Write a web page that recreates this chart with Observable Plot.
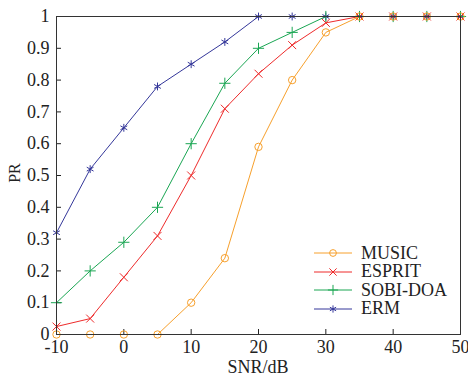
<!DOCTYPE html>
<html><head><meta charset="utf-8">
<script src="https://cdn.jsdelivr.net/npm/d3@7"></script>
<script src="https://cdn.jsdelivr.net/npm/@observablehq/plot@0.6"></script>
<style>
body{margin:0;background:#fff;}
#wrap{position:relative;width:468px;height:376px;font-family:"Liberation Serif","Times New Roman",serif;}
#legend{position:absolute;left:312px;top:244px;font-size:18px;color:#222;}
.row{display:flex;align-items:center;height:18.5px;}
.row svg{margin-right:9px;}
</style></head>
<body><div id="wrap"><div id="legend"></div></div>
<script>
const snr = [-10,-5,0,5,10,15,20,25,30,35,40,45,50];
const music  = [0,0,0,0,0.10,0.24,0.59,0.80,0.95,1,1,1,1];
const esprit = [0.025,0.05,0.18,0.31,0.50,0.71,0.82,0.91,0.98,1,1,1,1];
const sobi   = [0.10,0.20,0.29,0.40,0.60,0.79,0.90,0.95,1,1,1,1,1];
const erm    = [0.32,0.52,0.65,0.78,0.85,0.92,1,1,1,1,1,1,1];
const seriesNames = ["MUSIC","ESPRIT","SOBI-DOA","ERM"];
const seriesColors = ["#f7a02c","#ee2b2b","#1aa653","#34379a"];
const seriesSymbols = ["circle","times","plus","asterisk"];
const xTicks = [-10,0,10,20,30,40,50];
const yTicks = [0,0.1,0.2,0.3,0.4,0.5,0.6,0.7,0.8,0.9,1];

const vals = [music, esprit, sobi, erm];
const rows = [];
seriesNames.forEach((n,i)=>snr.forEach((x,j)=>rows.push({series:n, x, y:vals[i][j]})));
const drawOrder = ["ERM","SOBI-DOA","ESPRIT","MUSIC"];
const marks = [];
for (const n of drawOrder) {
  const i = seriesNames.indexOf(n);
  const d = rows.filter(r=>r.series===n);
  marks.push(Plot.line(d,{x:"x",y:"y",stroke:seriesColors[i],strokeWidth:1}));
  marks.push(Plot.dot(d,{x:"x",y:"y",stroke:seriesColors[i],symbol:()=>seriesSymbols[i],r:3.7,strokeWidth:1}));
}
const chart = Plot.plot({
  width:468, height:376,
  marginLeft:56, marginRight:8, marginTop:16, marginBottom:42,
  style:{fontFamily:'"Liberation Serif","Times New Roman",serif', fontSize:"18px", color:"#222", background:"transparent"},
  x:{domain:[-10,50]},
  y:{domain:[0,1]},
  marks:[
    Plot.axisX({ticks:xTicks, tickSize:-5, tickPadding:11, tickFormat:d=>String(d), label:null, fontSize:18}),
    Plot.axisY({ticks:yTicks, tickSize:-5, tickPadding:12, tickFormat:d=>String(d), label:null, fontSize:18}),
    ...marks,
    Plot.frame({stroke:"#333", strokeWidth:1})
  ]
});
const wrap = document.getElementById("wrap");
wrap.prepend(chart);
const svg = d3.select(chart);
svg.append("text").attr("x",258).attr("y",373).attr("text-anchor","middle").attr("font-size",18).attr("fill","#222").text("SNR/dB");
svg.append("text").attr("transform","translate(20,173) rotate(-90)").attr("text-anchor","middle").attr("font-size",16).attr("fill","#222").text("PR");
const leg = d3.select("#legend");
const map = {circle:d3.symbolCircle, times:d3.symbolTimes, plus:d3.symbolPlus, asterisk:d3.symbolAsterisk};
seriesNames.forEach((n,i)=>{
  const r = leg.append("div").attr("class","row");
  const s = r.append("svg").attr("width",40).attr("height",12);
  s.append("line").attr("x1",2).attr("x2",40).attr("y1",6).attr("y2",6).attr("stroke",seriesColors[i]).attr("stroke-width",1);
  s.append("path").attr("transform","translate(21,6)").attr("d",d3.symbol(map[seriesSymbols[i]],36)()).attr("fill","none").attr("stroke",seriesColors[i]).attr("stroke-width",1);
  r.append("span").text(n);
});
</script></body></html>
